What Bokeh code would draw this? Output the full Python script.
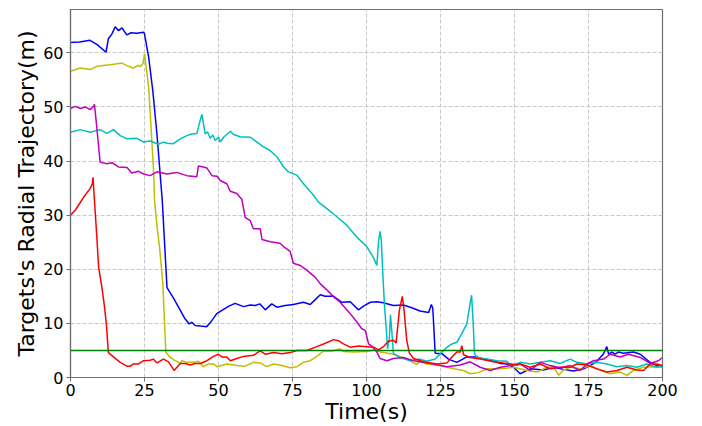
from bokeh.plotting import figure
from bokeh.models import Range1d, FixedTicker, Span
from bokeh.embed import file_html
from bokeh.resources import INLINE

# ---- data (time in s, radial trajectory in m) ----
x_ticks = [0, 25, 50, 75, 100, 125, 150, 175, 200]
y_ticks = [0, 10, 20, 30, 40, 50, 60]
threshold = 5

blue = [(0, 61.9), (3, 62.0), (6.6, 62.3), (9, 61.5), (12, 60.1), (12.8, 62.6), (14, 63.5), (15.1, 64.8),
        (16.2, 64.1), (17.4, 64.6), (19, 63.3), (20.5, 63.7), (22.4, 63.6), (24.7, 63.8), (25, 63.5),
        (26.4, 59.2), (27.8, 53.0), (29.2, 45), (31, 32.7), (32.6, 16.6), (35, 14.5), (37.1, 12.4),
        (38.5, 11), (40.1, 9.9), (41, 10.2), (42.1, 9.6), (44, 9.5), (46, 9.4), (47.2, 10.1), (49.4, 11.8),
        (51.7, 12.6), (53.5, 13.2), (55.6, 13.7), (58.5, 13.1), (60.7, 13.4), (62.4, 13.3), (64, 13.6),
        (65.8, 12.5), (68, 13.6), (69.7, 13.0), (72.5, 13.3), (75.3, 13.5), (78.7, 13.9), (81, 13.5),
        (82.5, 14.3), (84.4, 15.3), (86, 15.0), (88.9, 15.0), (91.7, 13.9), (94.5, 14.0), (97.3, 12.5),
        (99, 13.2), (101.3, 13.9), (103.5, 14.0), (105.7, 13.8), (109.1, 13.3), (112.5, 13.4), (115.3, 12.9),
        (118.1, 12.3), (121, 12.0), (121.9, 13.5), (122.4, 12.8), (123.2, 4.5), (125.5, 4.4), (127.7, 3.4),
        (130.5, 2.8), (133.9, 3.8), (137.3, 3.8), (139.5, 3.4), (142.9, 3.1), (145.2, 2.6), (147.4, 2.5),
        (148.6, 2.2), (149.7, 1.9), (151.9, 0.7), (155.3, 1.6), (159.8, 1.4), (163.2, 1.9), (166.6, 1.5),
        (169.9, 1.2), (173.3, 1.6), (175.6, 2.2), (177.8, 3.0), (180.1, 4.4), (181.2, 5.7), (181.8, 4.3),
        (182.9, 4.7), (184, 4.3), (185.1, 4.7), (186.8, 4.5), (190.2, 4.7), (192.5, 4.3), (195.8, 2.8),
        (198.1, 2.2), (200, 1.9)]

yellow = [(0, 56.6), (3.3, 57.2), (6.6, 56.9), (8.9, 57.5), (13.4, 57.8), (17.4, 58.1), (19.6, 57.5),
          (21.3, 57.2), (23, 57.7), (23.5, 57.4), (24.5, 58), (25, 59.8), (26.4, 53.7), (28, 38.9),
          (28.4, 32.7), (29.2, 28), (30.1, 24), (31.2, 17.3), (32.2, 4.7), (33.5, 3.8), (34.8, 3.3),
          (37.1, 2.6), (37.6, 3.1), (39.3, 2.8), (41.6, 2.8), (43.2, 3.0), (44.9, 2.0), (46.6, 2.5),
          (48.3, 2.5), (49.5, 2.0), (52.8, 2.5), (56.2, 2.2), (59, 2.1), (61.8, 2.8), (64.1, 2.7), (66.3, 2.0),
          (68.6, 2.5), (71.4, 2.2), (74.2, 1.8), (76.5, 2.0), (78.7, 2.8), (81, 3.1), (83.2, 3.9), (85.5, 4.9),
          (88.3, 4.9), (91.1, 5.3), (92.2, 4.8), (95.6, 4.7), (100.1, 4.8), (102.4, 5.1), (104.6, 4.7),
          (109.1, 4.3), (113.6, 3.4), (117, 2.4), (118.1, 3.1), (120.4, 2.5), (124.9, 2.2), (129.4, 1.6),
          (132.8, 1.3), (135, 0.7), (137.8, 0.9), (140.7, 1.6), (145.2, 1.6), (149.7, 1.9), (154.2, 1.3),
          (157.6, 1.0), (161, 1.9), (163.2, 2.0), (164.9, 0.4), (166.6, 1.4), (168.8, 1.9), (172.2, 1.6),
          (175.6, 2.2), (178.9, 1.4), (182.3, 0.7), (185.7, 1.0), (188, 0.4), (190.2, 1.3), (193.6, 1.9),
          (197, 2.0), (200, 1.9)]

cyan = [(0, 45.3), (3.3, 45.8), (6.6, 45.3), (10, 45.8), (12.3, 45.1), (14.5, 45.8), (16.8, 44.7),
        (19.1, 44.1), (22.4, 44.2), (24.7, 43.5), (26.9, 43.7), (29.7, 43.1), (31.4, 43.5), (32.6, 43.3),
        (34.8, 43.2), (37.1, 44.1), (39.3, 44.7), (41, 45), (42.7, 45.1), (43.8, 47.5), (44.4, 48.6),
        (45.5, 45), (46.3, 45.4), (47.2, 44.2), (48.1, 44.8), (48.9, 43.8), (50, 44.4), (50.6, 43.5),
        (51.7, 44.4), (54, 45.5), (55.1, 44.9), (57.3, 44.5), (60.7, 44.4), (63, 43.5), (65.2, 42.6),
        (67.5, 41.9), (69.7, 40.8), (72, 38.9), (73.6, 38), (76.5, 37.4), (78.7, 35.8), (81.6, 34),
        (83.8, 32.4), (86.6, 31.2), (90, 29.7), (93.4, 28.1), (96.8, 25.9), (100.1, 24.2), (102.4, 22.1),
        (103.5, 20.7), (104.1, 25.3), (104.6, 27), (105, 25.4), (105.5, 19.2), (106.1, 13.1), (106.7, 8.8),
        (107.1, 5.3), (107.7, 7), (108.1, 11.6), (108.6, 8.2), (109.1, 4.4), (111.4, 3.7), (114.8, 3.1),
        (118.1, 3.4), (120.4, 3), (123.2, 3.4), (124.9, 4.4), (127.2, 5.6), (128.9, 6.2), (130.5, 6.5),
        (132.2, 8.1), (133.9, 9.9), (135, 13.7), (135.5, 15.2), (136, 10.5), (136.5, 4.4), (137.3, 3.7),
        (140.7, 3.4), (144, 3.1), (147.4, 3.0), (148.6, 2.2), (151.9, 2.8), (155.3, 2.5), (158.7, 2.8),
        (162.1, 3.1), (165.4, 2.6), (168.8, 3.4), (171.1, 2.8), (174.5, 2.5), (177.8, 2.8), (181.2, 2.5),
        (184.6, 2.0), (188, 2.2), (191.4, 1.9), (194.7, 2.5), (198.1, 1.9), (200, 2.2)]

magenta = [(0, 49.7), (1.6, 50.1), (3.3, 49.7), (5, 50), (6.6, 49.5), (7.8, 50.1), (8.1, 50.5), (9.1, 45),
           (10, 39.8), (12.3, 39.5), (14, 39.7), (16.2, 38.9), (19.1, 38.8), (20.7, 37.8), (23, 38.1),
           (24.7, 37.6), (26.9, 37.3), (29.2, 38), (32.6, 37.6), (35.9, 37.9), (39.3, 37.3), (42.7, 37.1),
           (43.2, 39.1), (44.9, 38.9), (46.1, 38.7), (47.8, 37.3), (49.5, 37.2), (50.6, 36.4), (52.8, 35.8),
           (54, 34.4), (56.2, 34), (57.9, 32.9), (59, 29.6), (60.7, 29), (61.8, 27.5), (64.1, 27.5),
           (64.7, 25.5), (67.5, 25.1), (70.8, 24.8), (72, 24.2), (74.2, 23.3), (75.3, 21.1), (77.6, 20.7),
           (79.9, 19.8), (82.7, 18.5), (84.4, 17.3), (86.6, 16.2), (88.9, 14.9), (91.1, 13.9), (94.5, 11.8),
           (96.8, 10.2), (98.4, 9.0), (99.6, 8.7), (100.7, 6.2), (101.8, 5.8), (103.5, 4.7), (104.6, 3.5),
           (106.9, 3.1), (109.1, 3.5), (112.5, 3.7), (115.9, 3.1), (120.4, 2.7), (124.9, 2.2), (127.2, 2.0),
           (131.7, 2.3), (135, 2.9), (138.4, 1.9), (141.8, 1.3), (145.2, 1.9), (148.6, 2.2), (151.9, 2.5),
           (155.3, 1.3), (158.7, 2.8), (162.1, 2.2), (165.4, 1.8), (168.8, 2.2), (172.2, 1.3), (174.5, 2.5),
           (176.7, 3.1), (180.1, 3.4), (182.3, 4.3), (185.7, 3.8), (188.5, 4.3), (192.5, 3.7), (195.8, 2.6),
           (198.6, 3.1), (200, 3.7)]

red = [(0, 30), (1.6, 30.9), (4.4, 33.3), (6.6, 34.9), (7.4, 35.8), (7.6, 37), (8.1, 32.7), (8.9, 25.9),
       (9.5, 20.4), (10.6, 16.7), (11.5, 13), (12.1, 9.9), (12.8, 4.6), (14.5, 3.8), (16.8, 2.8), (19.1, 2.1),
       (20.2, 2.1), (21.3, 2.5), (23, 2.5), (24.7, 3.1), (26.9, 3.2), (28, 3.4), (29.2, 2.7), (31.4, 3.4),
       (33.1, 2.9), (35, 1.3), (37.1, 2.6), (38.8, 2.6), (40.4, 2.3), (42.1, 2.6), (43.8, 2.6), (46.1, 3.1),
       (48.3, 3.9), (50, 4.3), (51.1, 3.8), (52.8, 3.8), (54, 3.1), (56.2, 3.5), (58.5, 3.9), (61.8, 4.1),
       (64.1, 4.9), (65.8, 4.3), (68.6, 4.6), (71.4, 4.4), (74.2, 4.6), (76.5, 5.0), (79.9, 5.0), (83.2, 5.7),
       (85.5, 6.2), (88.9, 7.0), (90.5, 6.8), (92.2, 6.2), (94.5, 5.6), (97.3, 5.8), (100.1, 5.7),
       (102.4, 5.6), (104.1, 5.1), (105.7, 5.7), (107.4, 6.7), (109.1, 6.9), (110, 6.4), (111.1, 12.4),
       (112.1, 15), (112.7, 12.4), (113.6, 6.8), (114.5, 4.5), (115.9, 3.5), (119.3, 2.9), (123.8, 2.5),
       (127.2, 2.7), (128.9, 3.8), (130.5, 4.7), (131.7, 4.7), (132.2, 5.9), (132.8, 4.2), (135, 3.7),
       (138.4, 3.4), (142.9, 2.9), (147.4, 2.6), (150.8, 2.3), (151.9, 2.5), (155.3, 1.9), (158.7, 2.5),
       (162.1, 1.6), (165.4, 1.9), (168.8, 1.9), (171.1, 2.5), (174.5, 2.3), (177.8, 1.6), (181.2, 1.0),
       (184.6, 1.3), (188, 1.9), (191.4, 1.4), (193.6, 1.3), (195.8, 2.5), (198.1, 2.5), (200, 2.2)]

series = [(blue, "#0000ff"), (yellow, "#bfbf00"), (cyan, "#00bfbf"), (magenta, "#bf00bf"), (red, "#ff0000")]

FONT = "DejaVu Sans"
SPINE = "#6e6e6e"

p = figure(width=702, height=426, x_range=Range1d(0, 200), y_range=Range1d(0, 68),
           output_backend="svg", toolbar_location=None,
           min_border_left=70, min_border_right=40, min_border_top=9, min_border_bottom=49)
p.background_fill_color = "white"
p.border_fill_color = "white"
p.outline_line_color = SPINE
p.outline_line_width = 1.2

for ax in (p.xaxis[0], p.yaxis[0]):
    ax.axis_line_color = SPINE
    ax.axis_line_width = 1.2
    ax.major_tick_line_color = SPINE
    ax.major_tick_out = 4
    ax.major_tick_in = 0
    ax.minor_tick_line_color = None
    ax.major_label_text_font = FONT
    ax.major_label_text_font_size = "16px"
    ax.major_label_text_color = "black"
    ax.axis_label_text_font = FONT
    ax.axis_label_text_font_size = "22px"
    ax.axis_label_text_font_style = "normal"
    ax.axis_label_text_color = "black"

p.xaxis.ticker = FixedTicker(ticks=x_ticks)
p.yaxis.ticker = FixedTicker(ticks=y_ticks)
p.xaxis.major_label_standoff = 2
p.yaxis.major_label_standoff = 3

p.xaxis.axis_label = "Time(s)"
p.xaxis.axis_label_standoff = 0
p.yaxis.axis_label = "Targets's Radial Trajectory(m)"
p.yaxis.axis_label_standoff = 1

for g in (p.xgrid[0], p.ygrid[0]):
    g.grid_line_color = "#c8c8c8"
    g.grid_line_dash = "4 2"
    g.grid_line_width = 1
p.xgrid.ticker = FixedTicker(ticks=x_ticks)
p.ygrid.ticker = FixedTicker(ticks=y_ticks)

for data, color in series:
    xs = [d[0] for d in data]
    ys = [d[1] for d in data]
    p.line(xs, ys, line_color=color, line_width=1.5)

p.add_layout(Span(location=threshold, dimension="width", line_color="#008000", line_width=1.5))

open("out.html", "w").write(file_html(p, INLINE))
